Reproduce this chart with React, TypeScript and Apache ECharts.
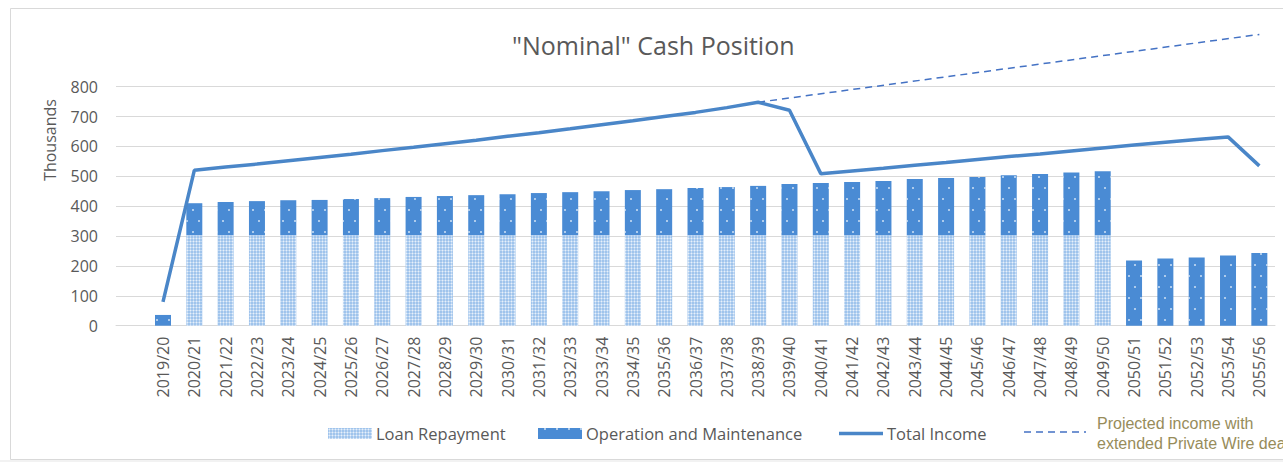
import React, { useEffect, useRef } from 'react';
import * as echarts from 'echarts';

const categories = [
  '', '2019/20', '2020/21', '2021/22', '2022/23', '2023/24', '2024/25', '2025/26', '2026/27',
  '2027/28', '2028/29', '2029/30', '2030/31', '2031/32', '2032/33', '2033/34', '2034/35',
  '2035/36', '2036/37', '2037/38', '2038/39', '2039/40', '2040/41', '2041/42', '2042/43',
  '2043/44', '2044/45', '2045/46', '2046/47', '2047/48', '2048/49', '2049/50', '2050/51',
  '2051/52', '2052/53', '2053/54', '2055/56',
];

const loanRepayment = [
  null, 0, 303, 303, 303, 303, 303, 303, 303,
  303, 303, 303, 303, 303, 303, 303, 303,
  303, 303, 303, 303, 303, 303, 303, 303,
  303, 303, 303, 303, 303, 303, 303, 0,
  0, 0, 0, 0,
];

const operationMaintenance = [
  null, 36, 107, 111, 114, 117, 118, 121, 124,
  128, 131, 134, 137, 141, 144, 147, 151,
  154, 158, 161, 165, 171, 175, 178, 181,
  188, 191, 195, 201, 205, 210, 214, 218,
  225, 228, 235, 243,
];

const totalIncome = [
  null, 80, 520, 531, 541, 552, 563, 574, 586,
  597, 609, 621, 634, 646, 659, 673, 686,
  700, 714, 730, 748, 721, 509, 518, 527,
  537, 546, 556, 566, 575, 585, 595, 605,
  614, 623, 632, 535,
];

const projectedIncome = [
  null, null, null, null, null, null, null, null, null,
  null, null, null, null, null, null, null, null,
  null, null, null, 748, null, null, null, null,
  null, null, null, null, null, null, null, null,
  null, null, null, 975,
];

const yTicks = { min: 0, max: 800, interval: 100 };

const FONT = 'Open Sans';
const GREY = '#595959';

export default function App() {
  const ref = useRef<HTMLDivElement>(null);

  useEffect(() => {
    document.body.style.margin = '0';
    const chart = echarts.init(ref.current!, null, { renderer: 'svg' });
    const loanDecal = {
      symbol: 'diamond',
      symbolSize: 0.8,
      color: 'rgba(255,255,255,0.75)',
      dashArrayX: [[3, 0]],
      dashArrayY: [3, 0],
      rotation: 0,
    };
    const omDecal = {
      symbol: 'rect',
      symbolSize: 1,
      color: 'rgba(255,255,255,0.55)',
      dashArrayX: [[2, 10], [0, 6, 2, 4]],
      dashArrayY: [2, 9],
    };
    const legendText = { fontFamily: FONT, fontSize: 16.5, color: GREY, padding: [0, 0, 0, -1] };
    chart.setOption({
      animation: false,
      backgroundColor: '#ffffff',
      textStyle: { fontFamily: FONT },
      title: {
        text: '"Nominal" Cash Position',
        left: 507,
        top: 27,
        textStyle: { fontFamily: FONT, fontSize: 25, fontWeight: 'normal', color: GREY },
      },
      grid: { left: 116, right: 8, top: 86.7, bottom: 136.3, containLabel: false },
      legend: [
        {
          data: ['Loan Repayment'],
          left: 328,
          top: 425,
          padding: 0,
          itemWidth: 44,
          itemHeight: 11,
          icon: 'rect',
          textStyle: legendText,
        },
        {
          data: ['Operation and Maintenance'],
          left: 538,
          top: 425,
          padding: 0,
          itemWidth: 44,
          itemHeight: 11,
          icon: 'rect',
          textStyle: legendText,
        },
        {
          data: ['Total Income'],
          left: 839,
          top: 425,
          padding: 0,
          itemWidth: 44,
          itemHeight: 3.5,
          icon: 'rect',
          textStyle: legendText,
        },
      ],
      xAxis: {
        type: 'category',
        data: categories,
        boundaryGap: true,
        axisLine: { lineStyle: { color: '#d9d9d9', width: 1 } },
        axisTick: { show: false },
        axisLabel: {
          rotate: 90,
          interval: 0,
          margin: 11,
          fontFamily: FONT,
          fontSize: 16,
          color: GREY,
        },
      },
      yAxis: {
        type: 'value',
        min: yTicks.min,
        max: yTicks.max,
        interval: yTicks.interval,
        axisLine: { show: false },
        axisTick: { show: false },
        axisLabel: { margin: 18, fontFamily: FONT, fontSize: 16, color: GREY },
        splitLine: { lineStyle: { color: '#d9d9d9', width: 1 } },
      },
      series: [
        {
          name: 'Loan Repayment',
          type: 'bar',
          stack: 'cost',
          data: loanRepayment,
          barWidth: 16,
          itemStyle: { color: '#9ec3ec', decal: loanDecal },
        },
        {
          name: 'Operation and Maintenance',
          type: 'bar',
          stack: 'cost',
          data: operationMaintenance,
          barWidth: 16,
          itemStyle: { color: '#4a8bd4', decal: omDecal },
        },
        {
          name: 'Total Income',
          type: 'line',
          data: totalIncome,
          symbol: 'none',
          showSymbol: false,
          lineStyle: { color: '#4a86c8', width: 3.5 },
          itemStyle: { color: '#4a86c8' },
          z: 5,
        },
        {
          name: 'Projected income with extended Private Wire deal',
          type: 'line',
          data: projectedIncome,
          connectNulls: true,
          symbol: 'none',
          showSymbol: false,
          clip: false,
          lineStyle: { color: '#4472c4', width: 1.5, type: [7, 5] },
          z: 4,
        },
      ],
      graphic: [
        {
          type: 'rect',
          shape: { x: 10.5, y: 8.5, width: 1300, height: 451 },
          style: { fill: 'none', stroke: '#d9d9d9', lineWidth: 1 },
          silent: true,
        },
        {
          type: 'rect',
          shape: { x: 0, y: 460, width: 1283, height: 2 },
          style: { fill: '#f2f2f2' },
          silent: true,
        },
        {
          type: 'text',
          x: 50,
          y: 140,
          rotation: Math.PI / 2,
          style: {
            text: 'Thousands',
            fontFamily: FONT,
            fontSize: 16,
            fill: GREY,
            align: 'center',
            verticalAlign: 'middle',
          },
          silent: true,
        },
        {
          type: 'line',
          shape: { x1: 1024, y1: 432, x2: 1086, y2: 432 },
          style: { stroke: '#4472c4', lineWidth: 1.5, lineDash: [7, 5] },
          silent: true,
        },
        {
          type: 'text',
          x: 1097,
          y: 413,
          style: {
            text: 'Projected income with\nextended Private Wire deal',
            fontFamily: 'Liberation Sans',
            fontSize: 16,
            lineHeight: 20,
            fill: '#978c5a',
          },
          silent: true,
        },
      ],
    });
    return () => chart.dispose();
  }, []);

  return <div ref={ref} style={{ width: 1283, height: 462 }} />;
}
